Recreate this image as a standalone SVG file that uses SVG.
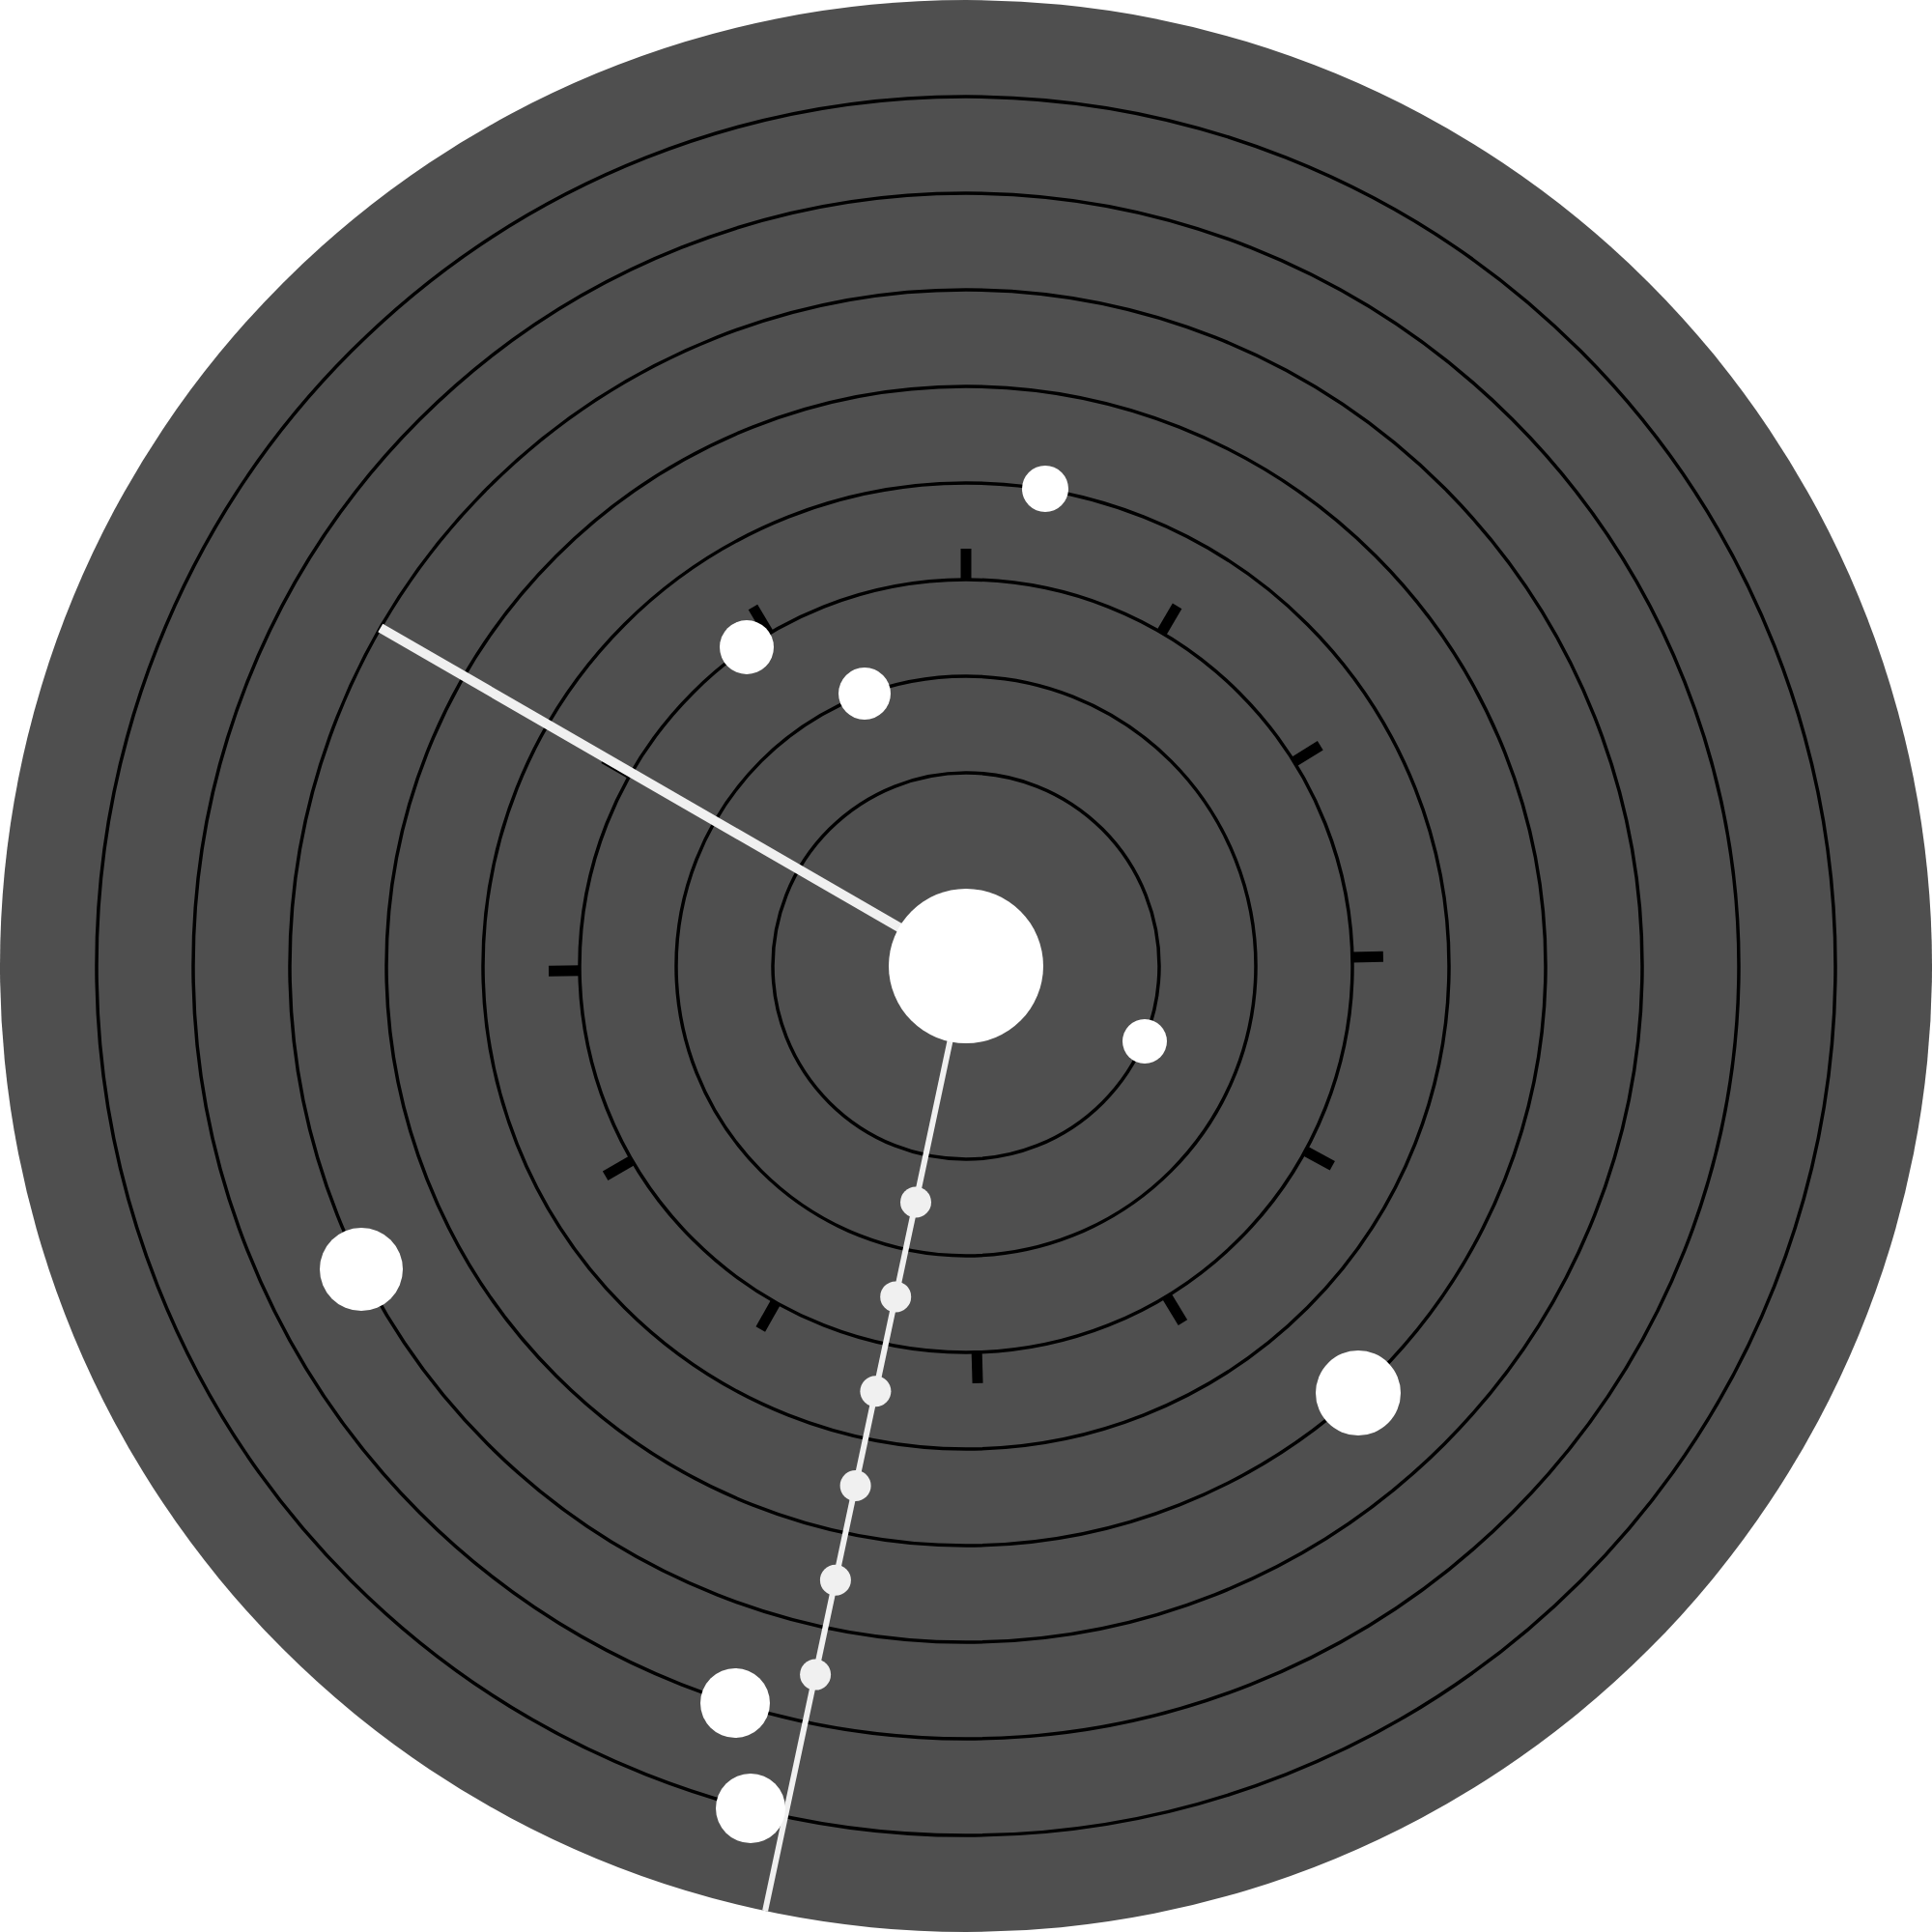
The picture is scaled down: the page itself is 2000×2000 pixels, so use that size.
<svg xmlns="http://www.w3.org/2000/svg" width="2000" height="2000" viewBox="0 0 2000 2000">
  <style>
    .ring { fill: none; stroke: #000; stroke-width: 3.5; }
    .tick { stroke: #000; stroke-width: 11; }
    .beam { stroke: #f0f0f0; fill: none; }
    .dot { fill: #f0f0f0; }
    .node { fill: #ffffff; }
  </style>
  <rect width="2000" height="2000" fill="#ffffff"/>
  <circle cx="1000" cy="1000" r="1000" fill="#4f4f4f"/>
  <g id="rings">
    <circle class="ring" cx="1000" cy="1000" r="200"/>
    <circle class="ring" cx="1000" cy="1000" r="300"/>
    <circle class="ring" cx="1000" cy="1000" r="400"/>
    <circle class="ring" cx="1000" cy="1000" r="500"/>
    <circle class="ring" cx="1000" cy="1000" r="600"/>
    <circle class="ring" cx="1000" cy="1000" r="700"/>
    <circle class="ring" cx="1000" cy="1000" r="800"/>
    <circle class="ring" cx="1000" cy="1000" r="900"/>
  </g>
  <g id="ticks">
    <line class="tick" x1="1399" y1="1000" x2="1432" y2="1000" transform="rotate(-90 1000 1000)"/>
    <line class="tick" x1="1399" y1="1000" x2="1432" y2="1000" transform="rotate(-59.6 1000 1000)"/>
    <line class="tick" x1="1399" y1="1000" x2="1432" y2="1000" transform="rotate(-31.9 1000 1000)"/>
    <line class="tick" x1="1399" y1="1000" x2="1432" y2="1000" transform="rotate(-1.3 1000 1000)"/>
    <line class="tick" x1="1399" y1="1000" x2="1432" y2="1000" transform="rotate(28.6 1000 1000)"/>
    <line class="tick" x1="1399" y1="1000" x2="1432" y2="1000" transform="rotate(58.7 1000 1000)"/>
    <line class="tick" x1="1399" y1="1000" x2="1432" y2="1000" transform="rotate(88.4 1000 1000)"/>
    <line class="tick" x1="1399" y1="1000" x2="1432" y2="1000" transform="rotate(119.5 1000 1000)"/>
    <line class="tick" x1="1399" y1="1000" x2="1432" y2="1000" transform="rotate(149.8 1000 1000)"/>
    <line class="tick" x1="1399" y1="1000" x2="1432" y2="1000" transform="rotate(179.3 1000 1000)"/>
    <line class="tick" x1="1399" y1="1000" x2="1432" y2="1000" transform="rotate(209.8 1000 1000)"/>
    <line class="tick" x1="1399" y1="1000" x2="1432" y2="1000" transform="rotate(239.3 1000 1000)"/>
  </g>
  <g id="connectors">
    <line class="beam" x1="1000" y1="1000" x2="393.8" y2="650" stroke-width="10"/>
    <line class="beam" x1="1000" y1="1000" x2="792.1" y2="1978.2" stroke-width="6"/>
  </g>
  <g id="beam-dots">
    <circle class="dot" cx="948" cy="1244.5" r="16"/>
    <circle class="dot" cx="927.2" cy="1342.4" r="16"/>
    <circle class="dot" cx="906.4" cy="1440.2" r="16"/>
    <circle class="dot" cx="885.6" cy="1538" r="16"/>
    <circle class="dot" cx="864.9" cy="1635.8" r="16"/>
    <circle class="dot" cx="844.1" cy="1733.6" r="16"/>
  </g>
  <g id="center"><circle class="node" cx="1000" cy="1000" r="80"/></g>
  <g id="node-1"><circle class="node" cx="1082" cy="506" r="24"/></g>
  <g id="node-2"><circle class="node" cx="773" cy="670" r="28"/></g>
  <g id="node-3"><circle class="node" cx="895" cy="718" r="27"/></g>
  <g id="node-4"><circle class="node" cx="1185" cy="1078" r="23"/></g>
  <g id="node-5"><circle class="node" cx="374" cy="1314" r="43"/></g>
  <g id="node-6"><circle class="node" cx="1406" cy="1442" r="44"/></g>
  <g id="node-7"><circle class="node" cx="761" cy="1763" r="36"/></g>
  <g id="node-8"><circle class="node" cx="777" cy="1872" r="36"/></g>
</svg>
